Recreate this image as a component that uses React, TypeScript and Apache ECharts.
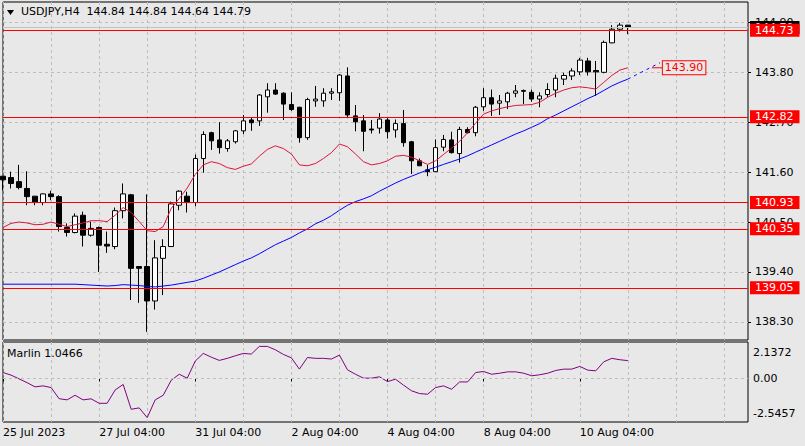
import React, { useEffect, useRef } from 'react';
import * as echarts from 'echarts';

const SYMBOL = 'USDJPY,H4';
const FIRST_LABEL = '25 Jul 2023';
const SESSION_DAYS = ['25 Jul', '26 Jul', '27 Jul', '28 Jul', '31 Jul', '1 Aug', '2 Aug', '3 Aug', '4 Aug', '7 Aug', '8 Aug', '9 Aug', '10 Aug', '11 Aug', '14 Aug', '15 Aug'];
const SESSION_HOURS = ['00:00', '04:00', '08:00', '12:00', '16:00', '20:00'];
const TOTAL_SLOTS = 94;
const LABEL_EVERY = 12;
const GRID_EVERY = 6;
const LAST_LABELED = 78;

const OPEN = [
  141.51, 141.48, 141.39, 141.24, 141.07, 140.93, 141.12, 141.06, 140.38, 140.27,
  140.65, 140.21, 140.38, 140.01, 139.96, 140.75, 141.10, 139.52, 139.52, 138.76,
  139.70, 139.96, 140.87, 141.07, 140.93, 141.90, 142.47, 142.31, 142.12, 142.27,
  142.51, 142.75, 142.73, 143.26, 143.41, 143.34, 143.09, 143.03, 142.36, 143.17,
  143.17, 143.34, 143.35, 143.72, 142.84, 142.73, 142.55, 142.57, 142.75, 142.53,
  142.67, 142.27, 141.85, 141.65, 141.61, 142.15, 142.31, 142.01, 142.54, 142.47,
  143.04, 143.24, 143.12, 143.15, 143.34, 143.38, 143.36, 143.21, 143.31, 143.41,
  143.65, 143.72, 143.81, 144.05, 143.84, 143.80, 144.45, 144.75, 144.84,
];
const HIGH = [
  141.51, 141.61, 141.76, 141.62, 141.07, 141.13, 141.19, 141.09, 140.47, 140.69,
  140.73, 140.51, 140.40, 140.29, 140.82, 141.35, 141.12, 139.52, 141.11, 140.10,
  140.12, 140.95, 141.20, 141.17, 141.99, 142.50, 142.49, 142.70, 142.33, 142.53,
  142.86, 142.81, 143.32, 143.56, 143.56, 143.36, 143.36, 143.04, 143.24, 143.50,
  143.45, 143.45, 143.76, 143.91, 143.08, 142.86, 142.75, 142.90, 142.79, 142.76,
  142.97, 142.29, 141.90, 141.76, 142.32, 142.42, 142.49, 142.60, 142.59, 143.06,
  143.45, 143.42, 143.30, 143.37, 143.52, 143.42, 143.42, 143.36, 143.56, 143.75,
  143.79, 143.89, 144.12, 144.12, 144.05, 144.50, 144.84, 144.89, 144.84,
];
const LOW = [
  141.20, 141.24, 141.22, 140.87, 140.87, 140.87, 140.98, 140.29, 140.18, 140.25,
  139.96, 140.18, 139.40, 139.82, 139.90, 140.58, 138.78, 138.72, 138.08, 138.57,
  138.89, 139.96, 140.76, 140.71, 140.85, 141.59, 142.09, 142.01, 142.05, 142.23,
  142.44, 142.51, 142.62, 142.91, 143.30, 142.75, 142.95, 142.25, 142.31, 143.04,
  143.04, 143.19, 143.17, 142.79, 142.50, 142.06, 142.45, 142.45, 142.34, 142.36,
  142.16, 141.56, 141.74, 141.51, 141.61, 142.06, 142.01, 141.81, 142.45, 142.39,
  142.95, 142.84, 142.86, 142.99, 143.25, 143.10, 143.15, 143.03, 143.25, 143.25,
  143.52, 143.63, 143.74, 143.73, 143.28, 143.78, 144.44, 144.70, 144.64,
];
const CLOSE = [
  141.43, 141.35, 141.26, 141.06, 140.93, 141.12, 141.06, 140.40, 140.27, 140.63,
  140.21, 140.36, 139.99, 139.97, 140.75, 141.12, 139.48, 139.48, 138.76, 139.71,
  139.96, 140.90, 141.18, 140.93, 141.90, 142.43, 142.29, 142.14, 142.29, 142.51,
  142.73, 142.69, 143.30, 143.41, 143.32, 143.10, 142.98, 142.36, 143.20, 143.21,
  143.34, 143.37, 143.74, 142.86, 142.71, 142.50, 142.53, 142.77, 142.49, 142.67,
  142.25, 141.85, 141.74, 141.61, 142.14, 142.32, 142.03, 142.54, 142.47, 143.03,
  143.24, 143.10, 143.17, 143.34, 143.39, 143.40, 143.21, 143.28, 143.42, 143.67,
  143.73, 143.83, 144.07, 143.81, 143.81, 144.46, 144.75, 144.84, 144.79,
];

const MA_FAST = [
  140.38, 140.47, 140.50, 140.48, 140.44, 140.45, 140.50, 140.45, 140.40, 140.44,
  140.48, 140.53, 140.53, 140.51, 140.65, 140.82, 140.71, 140.51, 140.31, 140.29,
  140.40, 140.80, 141.02, 141.25, 141.55, 141.76, 141.83, 141.79, 141.70, 141.66,
  141.73, 141.78, 141.95, 142.10, 142.18, 142.12, 142.00, 141.76, 141.74, 141.79,
  141.90, 142.03, 142.22, 142.16, 142.00, 141.83, 141.76, 141.79, 141.85, 141.95,
  141.97, 141.93, 141.85, 141.77, 141.85, 141.99, 142.13, 142.28, 142.47, 142.68,
  142.88, 142.95, 143.00, 143.04, 143.07, 143.08, 143.09, 143.14, 143.25, 143.34,
  143.41, 143.46, 143.48, 143.46, 143.43, 143.58, 143.73, 143.85, 143.90,
];
const MA_SLOW = [
  139.13, 139.13, 139.13, 139.13, 139.13, 139.13, 139.13, 139.13, 139.13, 139.13,
  139.12, 139.11, 139.10, 139.09, 139.10, 139.12, 139.11, 139.10, 139.08, 139.07,
  139.09, 139.11, 139.14, 139.17, 139.20, 139.26, 139.33, 139.40, 139.48, 139.56,
  139.64, 139.71, 139.80, 139.90, 140.00, 140.08, 140.16, 140.26, 140.35, 140.46,
  140.54, 140.64, 140.76, 140.87, 140.95, 141.01, 141.08, 141.18, 141.27, 141.36,
  141.44, 141.51, 141.58, 141.65, 141.71, 141.77, 141.83, 141.89, 141.96, 142.04,
  142.12, 142.20, 142.28, 142.36, 142.44, 142.51, 142.59, 142.67, 142.78, 142.86,
  142.95, 143.04, 143.13, 143.22, 143.30, 143.40, 143.50, 143.58, 143.65,
];
const PROJ_START = 78;
const PROJECTION = [143.65, 143.74, 143.83, 143.92, 144.01];
const TARGET = 143.90;
const TARGET_INDEX = 81;

const MARLIN = [
  0.35, 0.20, -0.02, -0.24, -0.49, -0.43, -0.53, -1.18, -1.25, -0.98,
  -1.25, -1.19, -1.45, -1.45, -0.67, -0.35, -1.80, -1.72, -2.29, -1.25,
  -0.98, -0.10, 0.25, 0.02, 1.02, 1.47, 1.25, 1.06, 1.18, 1.33,
  1.47, 1.43, 1.88, 1.88, 1.68, 1.41, 1.21, 0.55, 1.23, 1.18,
  1.18, 1.14, 1.37, 0.51, 0.25, 0.02, 0.02, 0.10, -0.18, -0.04,
  -0.39, -0.72, -0.88, -0.92, -0.53, -0.43, -0.63, -0.20, -0.20, 0.35,
  0.41, 0.25, 0.31, 0.39, 0.39, 0.31, 0.16, 0.22, 0.31, 0.47,
  0.55, 0.55, 0.71, 0.49, 0.45, 0.98, 1.18, 1.10, 1.0466,
];
const MARLIN_MAX = 2.1372;
const MARLIN_MIN = -2.5457;

const PRICE_MIN = 137.90;
const PRICE_MAX = 145.35;
const PRICE_TICKS = [138.30, 139.40, 140.50, 141.60, 142.70, 143.80, 144.90];
const LEVELS = [144.73, 142.82, 140.93, 140.35, 139.05];
const BID = 144.79;

function buildCategories(): string[] {
  const out: string[] = [];
  for (const d of SESSION_DAYS) {
    for (const h of SESSION_HOURS) {
      if (d === '25 Jul' && h === '00:00') continue;
      if (out.length < TOTAL_SLOTS) out.push(d + ' ' + h);
    }
  }
  return out;
}

const FONT = 'DejaVu Sans';
const BG = '#e8e8e8';
const GRID_LINE = '#bdbdbd';
const LEVEL_RED = '#ff0000';

export default function App() {
  const ref = useRef<HTMLDivElement>(null);
  useEffect(() => {
    if (!ref.current) return;
    const chart = echarts.init(ref.current, null, { renderer: 'svg' });
    const cats = buildCategories();
    const candles = OPEN.map((o, i) => [o, CLOSE[i], LOW[i], HIGH[i]]);
    const proj: (number | null)[] = cats.map(() => null);
    PROJECTION.forEach((v, k) => { proj[PROJ_START + k] = v; });
    const last = OPEN.length - 1;
    const header = `${SYMBOL}  ${OPEN[last].toFixed(2)} ${HIGH[last].toFixed(2)} ${LOW[last].toFixed(2)} ${CLOSE[last].toFixed(2)}`;
    const marlinText = `Marlin ${MARLIN[MARLIN.length - 1].toFixed(4)}`;

    const vSplit = {
      show: true,
      interval: (i: number) => i % GRID_EVERY === 0,
      lineStyle: { color: GRID_LINE, type: [3, 3], width: 1 },
    };
    const labelInt = (i: number) => i % LABEL_EVERY === 0 && i <= LAST_LABELED;

    const levelLabel = (v: number, bg: string) => ({
      show: true,
      position: 'end',
      formatter: v.toFixed(2),
      color: '#fff',
      backgroundColor: bg,
      fontFamily: FONT,
      fontSize: 11,
      lineHeight: 12,
      padding: [1, 6, 0, 5],
      distance: 2,
    });

    const option: any = {
      animation: false,
      backgroundColor: BG,
      textStyle: { fontFamily: FONT },
      grid: [
        { left: 3, top: 2, width: 745, height: 338, show: true, borderColor: '#000', borderWidth: 1, backgroundColor: 'transparent' },
        { left: 3, top: 342, width: 745, height: 80, show: true, borderColor: '#000', borderWidth: 1, backgroundColor: 'transparent' },
      ],
      xAxis: [
        {
          type: 'category', gridIndex: 0, data: cats, boundaryGap: false,
          axisLine: { show: false }, axisTick: { show: false }, axisLabel: { show: false },
          splitLine: vSplit,
        },
        {
          type: 'category', gridIndex: 1, data: cats, boundaryGap: false,
          axisLine: { show: false },
          axisTick: { show: true, interval: labelInt, length: 3, lineStyle: { color: '#000' } },
          axisLabel: {
            show: true, interval: labelInt, align: 'left', margin: 5, color: '#000',
            fontSize: 11, fontFamily: FONT,
            formatter: (v: string, i: number) => (i === 0 ? FIRST_LABEL : v),
          },
          splitLine: vSplit,
        },
      ],
      yAxis: [
        {
          type: 'value', gridIndex: 0, position: 'right', min: PRICE_MIN, max: PRICE_MAX,
          axisLine: { show: false },
          axisTick: { show: true, customValues: PRICE_TICKS, length: 3, lineStyle: { color: '#000' } },
          axisLabel: {
            customValues: PRICE_TICKS, margin: 7, color: '#000', fontSize: 11, fontFamily: FONT,
            formatter: (v: number) => v.toFixed(2),
          },
          splitLine: { show: true, lineStyle: { color: GRID_LINE, type: [3, 3], width: 1 } },
        },
        {
          type: 'value', gridIndex: 1, position: 'right', min: MARLIN_MIN, max: MARLIN_MAX,
          axisLine: { show: false },
          axisTick: { show: false },
          axisLabel: {
            customValues: [MARLIN_MIN, 0, MARLIN_MAX], margin: 5, color: '#000', fontSize: 11, fontFamily: FONT,
            formatter: (v: number) => {
              if (v >= MARLIN_MAX - 1e-6) return `{top|${MARLIN_MAX.toFixed(4)}}`;
              if (v <= MARLIN_MIN + 1e-6) return `{bot|${MARLIN_MIN.toFixed(4)}}`;
              return '0.00';
            },
            rich: {
              top: { padding: [20, 0, 0, 0], fontSize: 11, fontFamily: FONT, color: '#000' },
              bot: { padding: [0, 0, 18, 0], fontSize: 11, fontFamily: FONT, color: '#000' },
            },
          },
          splitLine: { show: false },
        },
      ],
      series: [
        {
          type: 'candlestick', xAxisIndex: 0, yAxisIndex: 0, data: candles, barWidth: 5,
          itemStyle: { color: '#ffffff', color0: '#000000', borderColor: '#000000', borderColor0: '#000000', borderWidth: 1 },
          markLine: {
            silent: true, symbol: 'none', animation: false,
            data: [
              { yAxis: BID, lineStyle: { color: '#c4c4c4', width: 1, type: 'solid' }, label: levelLabel(BID, '#000') },
            ],
          },
        },
        {
          type: 'line', xAxisIndex: 0, yAxisIndex: 0, data: MA_FAST, symbol: 'none',
          lineStyle: { color: '#dc143c', width: 1 },
          itemStyle: { color: LEVEL_RED },
          markLine: {
            silent: true, symbol: 'none', animation: false,
            lineStyle: { color: LEVEL_RED, width: 1, type: 'solid', opacity: 1 },
            data: LEVELS.map((v) => ({ yAxis: v, lineStyle: { color: LEVEL_RED, width: 1, type: 'solid', opacity: 1 }, label: levelLabel(v, LEVEL_RED) })),
          },
        },
        {
          type: 'line', xAxisIndex: 0, yAxisIndex: 0, data: MA_SLOW, symbol: 'none',
          lineStyle: { color: '#0000ff', width: 1 },
        },
        {
          type: 'line', xAxisIndex: 0, yAxisIndex: 0, data: proj, symbol: 'none', connectNulls: false,
          lineStyle: { color: '#0000ff', width: 1, type: [3, 4] },
          markPoint: {
            silent: true, symbol: 'rect', symbolSize: [11, 1], symbolOffset: [5.5, 0],
            itemStyle: { color: LEVEL_RED },
            data: [{ coord: [TARGET_INDEX, TARGET], value: TARGET }],
            label: {
              show: true, position: 'right', distance: 0, formatter: TARGET.toFixed(2),
              color: LEVEL_RED, borderColor: LEVEL_RED, borderWidth: 1, backgroundColor: BG,
              padding: [1, 2, 0, 2], fontSize: 11, lineHeight: 12, fontFamily: FONT,
            },
          },
        },
        {
          type: 'line', xAxisIndex: 1, yAxisIndex: 1, data: MARLIN, symbol: 'none',
          lineStyle: { color: '#800080', width: 1 },
          markLine: {
            silent: true, symbol: 'none', animation: false,
            data: [{ yAxis: 0 }],
            lineStyle: { color: GRID_LINE, type: [3, 3], width: 1 },
            label: { show: false },
          },
        },
      ],
      graphic: [
        { type: 'polygon', shape: { points: [[7, 10], [14, 10], [10.5, 15]] }, style: { fill: '#000' } },
        { type: 'text', left: 21, top: 6, style: { text: header, fill: '#000', font: `11px "${FONT}"` } },
        { type: 'text', left: 7, top: 348, style: { text: marlinText, fill: '#000', font: `11px "${FONT}"` } },
      ],
    };
    chart.setOption(option);
    return () => chart.dispose();
  }, []);
  return <div ref={ref} style={{ position: 'fixed', left: 0, top: 0, width: 805, height: 446 }} />;
}
